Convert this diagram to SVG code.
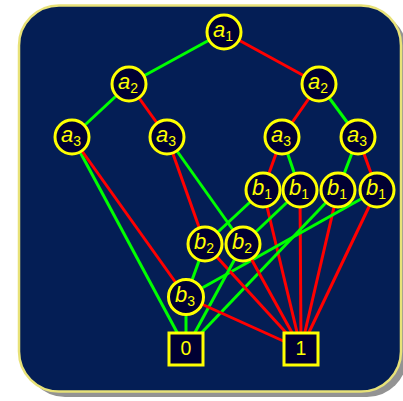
<svg xmlns="http://www.w3.org/2000/svg" width="403" height="401" viewBox="0 0 403 401">
<style>
.g{stroke:#00ff00;stroke-width:3;fill:none}
.r{stroke:#ff0000;stroke-width:3;fill:none}
.n circle,.n rect{fill:#000033;stroke:#ffff00;stroke-width:3}
.n text{font-family:"Liberation Sans",Arial,sans-serif;fill:#ffff00;text-anchor:middle}
.v{font-style:italic;font-size:22px}
.s{font-size:14px;font-style:normal}
.t{font-size:19.5px}
</style>
<rect x="25" y="11" width="382" height="386" rx="40" fill="#939393"/>
<rect x="19" y="5.5" width="382" height="386" rx="40" fill="#041e55" stroke="#e8e278" stroke-width="2.5"/>
<g id="connectors">
<line class="g" x1="224" y1="32" x2="129" y2="84"/>
<line class="r" x1="224" y1="32" x2="319" y2="84"/>
<line class="g" x1="129" y1="84" x2="72" y2="137"/>
<line class="r" x1="129" y1="84" x2="167" y2="137"/>
<line class="r" x1="319" y1="84" x2="282" y2="137"/>
<line class="g" x1="319" y1="84" x2="358" y2="137"/>
<line class="g" x1="72" y1="137" x2="186" y2="349"/>
<line class="r" x1="72" y1="137" x2="186" y2="297"/>
<line class="r" x1="167" y1="137" x2="205" y2="244"/>
<line class="g" x1="167" y1="137" x2="243" y2="244"/>
<line class="r" x1="282" y1="137" x2="263" y2="190"/>
<line class="g" x1="282" y1="137" x2="300" y2="190"/>
<line class="g" x1="358" y1="137" x2="338" y2="190"/>
<line class="r" x1="358" y1="137" x2="377" y2="190"/>
<line class="g" x1="263" y1="190" x2="205" y2="244"/>
<line class="r" x1="263" y1="190" x2="301" y2="349"/>
<line class="g" x1="300" y1="190" x2="243" y2="244"/>
<line class="r" x1="300" y1="190" x2="301" y2="349"/>
<line class="g" x1="338" y1="190" x2="186" y2="349"/>
<line class="r" x1="338" y1="190" x2="301" y2="349"/>
<line class="g" x1="377" y1="190" x2="186" y2="297"/>
<line class="r" x1="377" y1="190" x2="301" y2="349"/>
<line class="g" x1="205" y1="244" x2="186" y2="297"/>
<line class="r" x1="205" y1="244" x2="301" y2="349"/>
<line class="g" x1="243" y1="244" x2="186" y2="349"/>
<line class="r" x1="243" y1="244" x2="301" y2="349"/>
<line class="g" x1="186" y1="297" x2="186" y2="349"/>
<line class="r" x1="186" y1="297" x2="301" y2="349"/>
</g>
<g id="a1" class="n"><circle cx="224" cy="32" r="17"/><text x="223" y="36.5" class="v">a<tspan class="s" dy="4">1</tspan></text></g>
<g id="a2-left" class="n"><circle cx="129" cy="84" r="17"/><text x="128" y="88.5" class="v">a<tspan class="s" dy="4">2</tspan></text></g>
<g id="a2-right" class="n"><circle cx="319" cy="84" r="17"/><text x="318" y="88.5" class="v">a<tspan class="s" dy="4">2</tspan></text></g>
<g id="a3-1" class="n"><circle cx="72" cy="137" r="17"/><text x="71" y="141.5" class="v">a<tspan class="s" dy="4">3</tspan></text></g>
<g id="a3-2" class="n"><circle cx="167" cy="137" r="17"/><text x="166" y="141.5" class="v">a<tspan class="s" dy="4">3</tspan></text></g>
<g id="a3-3" class="n"><circle cx="282" cy="137" r="17"/><text x="281" y="141.5" class="v">a<tspan class="s" dy="4">3</tspan></text></g>
<g id="a3-4" class="n"><circle cx="358" cy="137" r="17"/><text x="357" y="141.5" class="v">a<tspan class="s" dy="4">3</tspan></text></g>
<g id="b1-1" class="n"><circle cx="263" cy="190" r="17"/><text x="262" y="195" class="v">b<tspan class="s" dy="4">1</tspan></text></g>
<g id="b1-2" class="n"><circle cx="300" cy="190" r="17"/><text x="299" y="195" class="v">b<tspan class="s" dy="4">1</tspan></text></g>
<g id="b1-3" class="n"><circle cx="338" cy="190" r="17"/><text x="337" y="195" class="v">b<tspan class="s" dy="4">1</tspan></text></g>
<g id="b1-4" class="n"><circle cx="377" cy="190" r="17"/><text x="376" y="195" class="v">b<tspan class="s" dy="4">1</tspan></text></g>
<g id="b2-left" class="n"><circle cx="205" cy="244" r="17"/><text x="204" y="249" class="v">b<tspan class="s" dy="4">2</tspan></text></g>
<g id="b2-right" class="n"><circle cx="243" cy="244" r="17"/><text x="242" y="249" class="v">b<tspan class="s" dy="4">2</tspan></text></g>
<g id="b3" class="n"><circle cx="186" cy="297" r="17.5"/><text x="185" y="302" class="v">b<tspan class="s" dy="4">3</tspan></text></g>
<g id="zero" class="n"><rect x="169" y="333" width="34" height="32"/><text x="186" y="354.5" class="t">0</text></g>
<g id="one" class="n"><rect x="284" y="333" width="34" height="32"/><text x="301" y="354.5" class="t">1</text></g>
</svg>
